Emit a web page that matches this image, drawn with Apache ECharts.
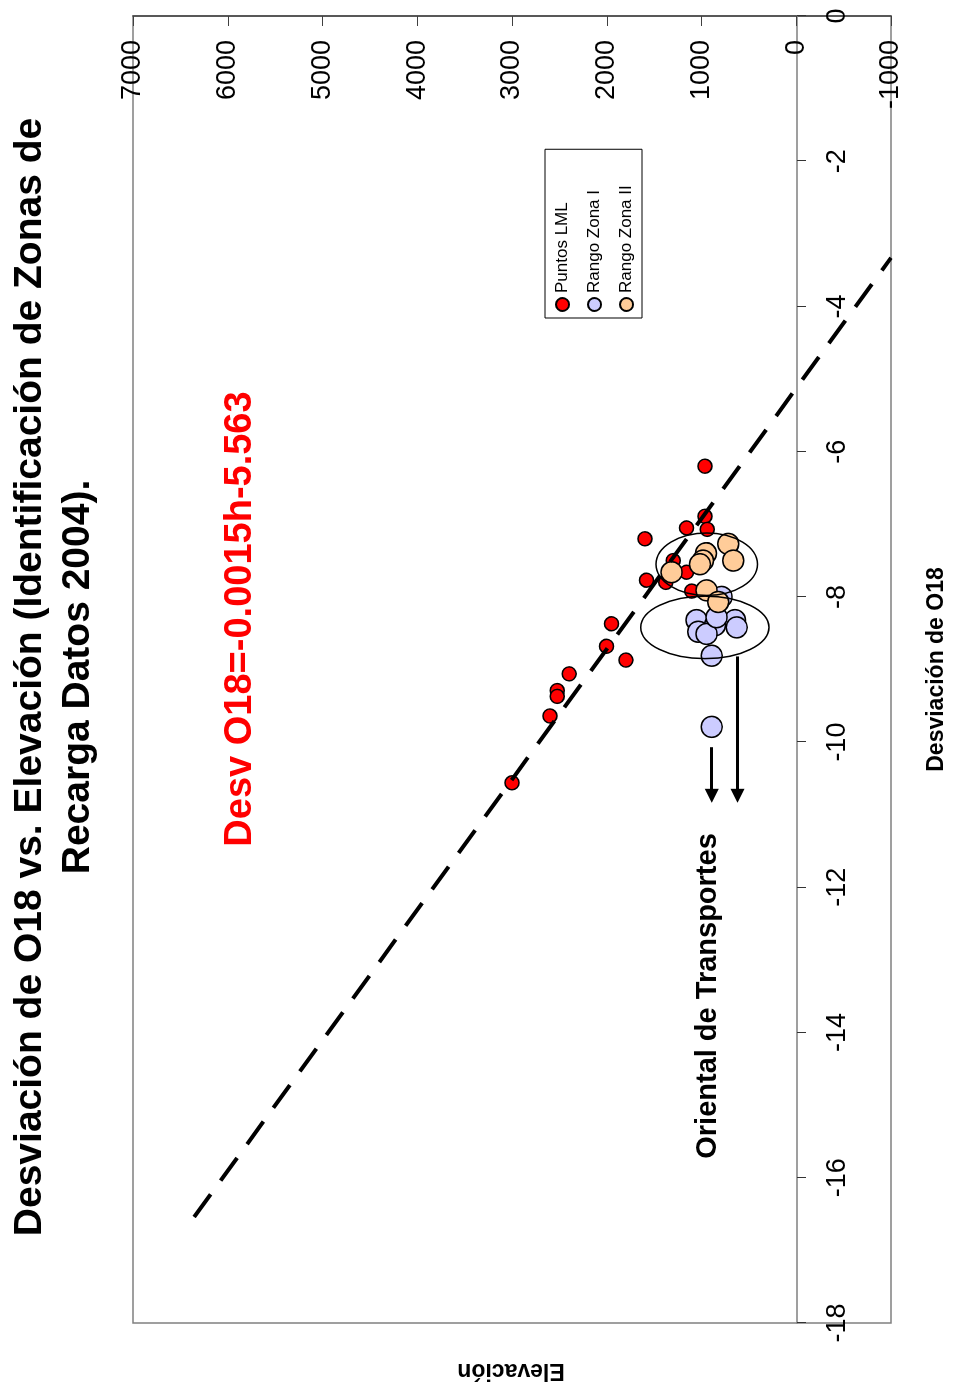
<!DOCTYPE html>
<html>
<head>
<meta charset="utf-8">
<script src="https://cdn.jsdelivr.net/npm/echarts@6/dist/echarts.min.js"></script>
<style>
html, body { margin: 0; padding: 0; overflow: hidden; background: #fff; width: 953px; height: 1387px; }
/* la grafica original esta girada 90 grados */
#chart { position: absolute; left: 0; top: 0; width: 1387px; height: 953px;
         transform-origin: 0 0; transform: translateY(1387px) rotate(-90deg); }
</style>
</head>
<body>
<div id="chart"></div>
<script>
// [desviacion O18, elevacion]
var puntosLML = [
    [-6.20, 964], [-6.89, 964], [-7.07, 940], [-7.05, 1157], [-7.20, 1597],
    [-7.35, 940], [-7.50, 1299], [-7.66, 1157], [-7.77, 1580], [-7.80, 1376],
    [-7.92, 1104], [-8.37, 1949], [-8.68, 2002], [-8.87, 1798], [-9.06, 2397],
    [-9.29, 2523], [-9.37, 2523], [-9.64, 2600], [-10.56, 2999]
];
var rangoZonaI = [
    [-8.00, 788], [-8.32, 1052], [-8.39, 858], [-8.32, 647], [-8.42, 629],
    [-8.48, 1035], [-8.51, 946], [-8.28, 841], [-8.81, 893], [-9.79, 893]
];
var rangoZonaII = [
    [-7.27, 718], [-7.50, 665], [-7.40, 953], [-7.50, 985], [-7.55, 1017],
    [-7.66, 1316], [-7.91, 946], [-8.07, 824]
];
// recta dibujada (extremos)
var recta = [[-16.54, 6355], [-3.33, -1000]];
// elipses: centro x, centro y, radio x, radio y
var elipses = [[-7.55, 945, 0.43, 536], [-8.42, 964, 0.43, 676]];
var flechas = [
    [[-10.07, 893], [-10.74, 893]],
    [[-8.82, 619], [-10.74, 619]]
];
var nombres = ['Puntos LML', 'Rango Zona I', 'Rango Zona II'];

var fuente = 'Liberation Sans, Arial, sans-serif';
var myChart = echarts.init(document.getElementById('chart'));

function etiqueta(v) {
    return String(v);
}

var option = {
    backgroundColor: '#fff',
    animation: false,
    title: {
        text: 'Desviación de O18 vs. Elevación (Identificación de Zonas de\nRecarga Datos 2004).',
        left: 710,
        top: 6,
        padding: 0,
        textAlign: 'center',
        textStyle: { fontSize: 39, fontWeight: 'bold', lineHeight: 48, color: '#000', fontFamily: fuente }
    },
    legend: {
        orient: 'vertical',
        left: 1069,
        top: 545,
        data: nombres,
        icon: 'circle',
        itemWidth: 13,
        itemHeight: 13,
        itemGap: 15,
        padding: [9, 36, 7, 6],
        borderColor: '#000',
        borderWidth: 1,
        borderRadius: 0,
        backgroundColor: '#fff',
        selectedMode: false,
        textStyle: { fontSize: 17, color: '#000', fontFamily: fuente }
    },
    grid: {
        left: 64,
        right: 16,
        top: 133,
        bottom: 62,
        outerBoundsMode: 'none',
        containLabel: false,
        show: true,
        borderColor: '#808080',
        borderWidth: 1.5
    },
    xAxis: {
        type: 'value',
        position: 'bottom',
        offset: -94,
        min: -18,
        max: 0,
        interval: 2,
        name: 'Desviación de O18',
        nameLocation: 'middle',
        nameGap: 128,
        nameTextStyle: { fontSize: 23, fontWeight: 'bold', color: '#000', fontFamily: fuente },
        axisLine: { onZero: false, lineStyle: { color: '#808080', width: 1.5 } },
        axisTick: { length: 9, lineStyle: { color: '#333', width: 1 } },
        axisLabel: { fontSize: 27, color: '#000', margin: 27, fontFamily: fuente, formatter: etiqueta },
        splitLine: { show: false }
    },
    yAxis: {
        type: 'value',
        position: 'right',
        min: -1000,
        max: 7000,
        interval: 1000,
        axisLine: { onZero: false, lineStyle: { color: '#404040', width: 1.5 } },
        axisTick: { inside: true, length: 10, lineStyle: { color: '#404040', width: 1 } },
        axisLabel: { inside: true, fontSize: 27, color: '#000', margin: 24, fontFamily: fuente, formatter: etiqueta },
        splitLine: { show: false }
    },
    graphic: [
        {
            type: 'text', x: 768, y: 241, z: 100,
            style: { text: 'Desv O18=-0.0015h-5.563', fill: '#ff0000', font: 'bold 38px ' + fuente,
                     textAlign: 'center', textVerticalAlign: 'middle' }
        },
        {
            type: 'text', x: 391, y: 708, z: 100,
            style: { text: 'Oriental de Transportes', fill: '#000', font: 'bold 29px ' + fuente,
                     textAlign: 'center', textVerticalAlign: 'middle' }
        },
        {
            type: 'text', x: 17, y: 511, rotation: Math.PI / 2, z: 100,
            style: { text: 'Elevación', fill: '#000', font: 'bold 23px ' + fuente,
                     textAlign: 'center', textVerticalAlign: 'middle' }
        }
    ],
    series: [
        {
            name: nombres[0],
            type: 'scatter',
            data: puntosLML,
            symbolSize: 14,
            itemStyle: { color: '#ff0000', borderColor: '#000', borderWidth: 1.5, opacity: 1 },
            z: 2
        },
        {
            name: nombres[1],
            type: 'scatter',
            data: rangoZonaI,
            symbolSize: 21,
            itemStyle: { color: '#ccccff', borderColor: '#000', borderWidth: 1.5, opacity: 1 },
            z: 3
        },
        {
            name: nombres[2],
            type: 'scatter',
            data: rangoZonaII,
            symbolSize: 21,
            itemStyle: { color: '#ffcc99', borderColor: '#000', borderWidth: 1.5, opacity: 1 },
            z: 4
        },
        {
            name: 'recta',
            type: 'line',
            data: recta,
            symbol: 'none',
            silent: true,
            lineStyle: { color: '#000', width: 4, type: [28, 17], cap: 'butt' },
            z: 5,
            markLine: {
                silent: true,
                symbol: ['none', 'triangle'],
                symbolSize: 14,
                label: { show: false },
                lineStyle: { color: '#000', width: 3, type: 'solid' },
                data: flechas.map(function (f) {
                    return [{ coord: f[0] }, { coord: f[1] }];
                })
            }
        },
        {
            name: 'elipses',
            type: 'custom',
            data: elipses,
            silent: true,
            z: 6,
            renderItem: function (params, api) {
                var c = api.coord([api.value(0), api.value(1)]);
                var s = api.size([api.value(2), api.value(3)]);
                return {
                    type: 'ellipse',
                    shape: { cx: c[0], cy: c[1], rx: s[0], ry: s[1] },
                    style: { fill: 'none', stroke: '#000', lineWidth: 1.5 }
                };
            }
        }
    ]
};
myChart.setOption(option);
</script>
</body>
</html>
